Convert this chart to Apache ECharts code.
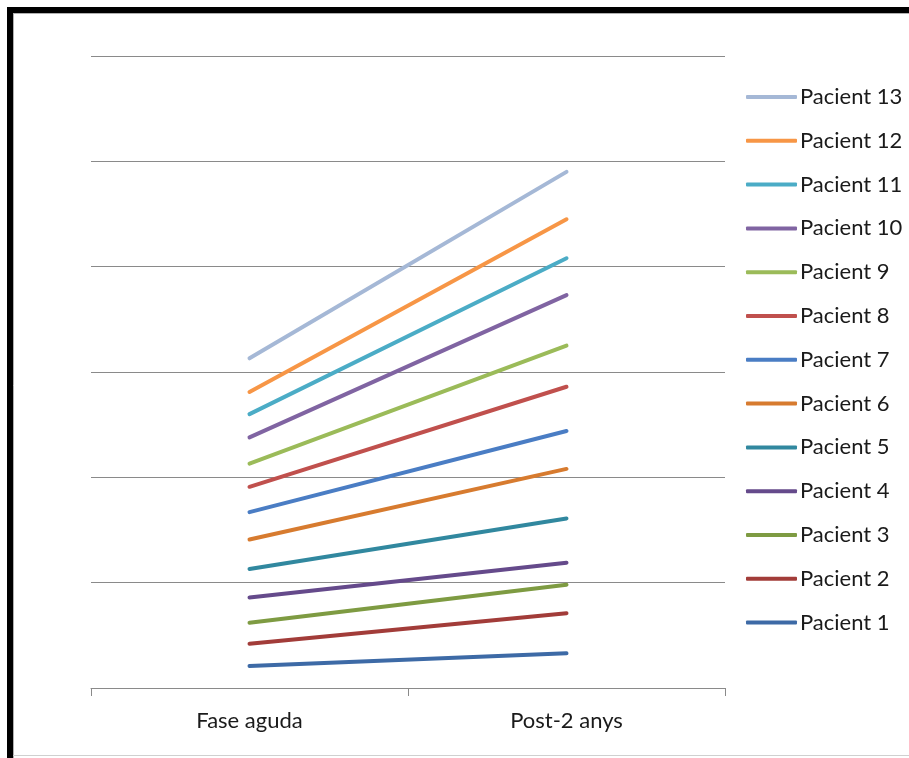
<!DOCTYPE html>
<html>
<head>
<meta charset="utf-8">
<style>
  html, body { margin: 0; padding: 0; background: #ffffff; }
  #chart { width: 909px; height: 758px; }
</style>
<script src="https://cdn.jsdelivr.net/npm/echarts@6/dist/echarts.min.js"></script>
</head>
<body>
<div id="chart"></div>
<script>
// Categories on the x axis
const categories = ['Fase aguda', 'Post-2 anys'];

// Patient names and their values at each phase
const patients = ['Pacient 1', 'Pacient 2', 'Pacient 3', 'Pacient 4', 'Pacient 5', 'Pacient 6',
                  'Pacient 7', 'Pacient 8', 'Pacient 9', 'Pacient 10', 'Pacient 11', 'Pacient 12', 'Pacient 13'];
const faseAguda = [2.1, 4.2, 6.2, 8.6, 11.3, 14.1, 16.7, 19.1, 21.3, 23.8, 26.0, 28.1, 31.3];
const post2Anys = [3.3, 7.1, 9.8, 11.9, 16.1, 20.8, 24.4, 28.6, 32.5, 37.3, 40.8, 44.5, 49.0];

// Series colours, one per patient
const colors = ['#3D6AA6', '#A23C39', '#7E9B42', '#654A8B', '#31889F', '#D77B2F',
                '#4A7DC4', '#C0504D', '#9BBB59', '#8064A2', '#4BACC6', '#F79646', '#A5B8D6'];

const chart = echarts.init(document.getElementById('chart'), null, { renderer: 'canvas' });

const series = patients.map((name, i) => ({
  name: name,
  type: 'line',
  data: [faseAguda[i], post2Anys[i]],
  showSymbol: false,
  symbol: 'none',
  silent: true,
  animation: false,
  lineStyle: { color: colors[i], width: 4, cap: 'round' },
  itemStyle: { color: colors[i] }
}));

const font = 'Lato, "Open Sans", sans-serif';

chart.setOption({
  backgroundColor: '#ffffff',
  animation: false,
  color: colors,
  grid: { left: 91, right: 184, top: 56, bottom: 70 },
  xAxis: {
    type: 'category',
    data: categories,
    boundaryGap: true,
    axisLine: { lineStyle: { color: '#8a8a8a', width: 1 } },
    axisTick: { show: true, length: 8, lineStyle: { color: '#8a8a8a' } },
    axisLabel: { color: '#1a1a1a', fontSize: 22, fontFamily: font, margin: 22 }
  },
  yAxis: {
    type: 'value',
    min: 0, max: 60, interval: 10,
    axisLine: { show: false },
    axisTick: { show: false },
    axisLabel: { show: false },
    splitLine: { lineStyle: { color: '#8a8a8a', width: 1 } }
  },
  legend: {
    orient: 'vertical',
    left: 746,
    top: 85,
    padding: 0,
    itemGap: 19.8,
    itemWidth: 51,
    itemHeight: 4,
    icon: 'roundRect',
    data: patients.slice().reverse(),
    textStyle: { color: '#1a1a1a', fontSize: 22, fontFamily: font, lineHeight: 24, padding: [0, 0, 0, -2] }
  },
  series: series,
  graphic: [
    // frame around the chart area
    { type: 'rect', shape: { x: 7, y: 7, width: 902, height: 6 }, style: { fill: '#000000' }, silent: true },
    { type: 'rect', shape: { x: 7, y: 7, width: 6, height: 751 }, style: { fill: '#000000' }, silent: true },
    { type: 'line', shape: { x1: 13, y1: 13.5, x2: 909, y2: 13.5 }, style: { stroke: '#b0b0b0', lineWidth: 1 }, silent: true },
    { type: 'line', shape: { x1: 13.5, y1: 13, x2: 13.5, y2: 758 }, style: { stroke: '#b0b0b0', lineWidth: 1 }, silent: true },
    { type: 'line', shape: { x1: 13, y1: 755.5, x2: 909, y2: 755.5 }, style: { stroke: '#d0d0d0', lineWidth: 1 }, silent: true }
  ]
});
</script>
</body>
</html>
